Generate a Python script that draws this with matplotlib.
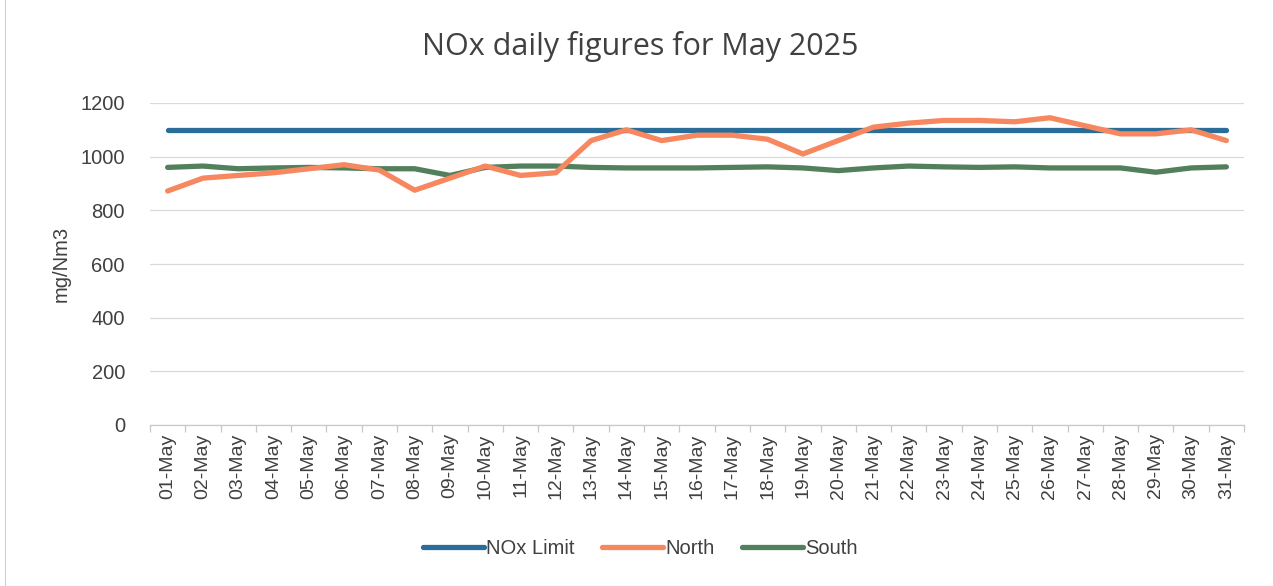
import matplotlib
matplotlib.use('Agg')
import matplotlib.pyplot as plt
from matplotlib.ticker import FixedLocator, NullFormatter

# =============================================================================
# Data
# =============================================================================

days = [f"{d:02d}-May" for d in range(1, 32)]

nox_limit = [1100] * 31

north = [872, 920, 930, 940, 955, 970, 950, 875, 920, 965,
         930, 940, 1060, 1100, 1060, 1080, 1080, 1065, 1010, 1060,
         1110, 1125, 1135, 1135, 1130, 1145, 1115, 1085, 1085, 1100,
         1060]

south = [960, 965, 955, 958, 960, 958, 955, 955, 930, 960,
         965, 965, 960, 958, 958, 958, 960, 962, 958, 948,
         958, 965, 962, 960, 962, 958, 958, 958, 942, 958,
         962]

y_ticks = [0, 200, 400, 600, 800, 1000, 1200]

# Visual settings
COLOR_LIMIT = '#2b6d99'
COLOR_NORTH = '#f6875f'
COLOR_SOUTH = '#53805c'
GRID_COLOR = '#dadada'
TEXT_COLOR = '#404040'
LINE_W = 3.8
FONT = ['Liberation Sans', 'DejaVu Sans']

plt.rcParams['font.family'] = FONT

fig = plt.figure(figsize=(12.73, 5.86), dpi=100)
ax = fig.add_axes([150 / 1273, 1 - 425 / 586, 1094 / 1273, 322 / 586])

x = list(range(len(days)))
ax.plot(x, nox_limit, color=COLOR_LIMIT, lw=LINE_W, solid_capstyle='round',
        label='NOx Limit', zorder=3)
ax.plot(x, north, color=COLOR_NORTH, lw=LINE_W, solid_capstyle='round',
        solid_joinstyle='round', label='North', zorder=4)
ax.plot(x, south, color=COLOR_SOUTH, lw=LINE_W, solid_capstyle='round',
        solid_joinstyle='round', label='South', zorder=2)

ax.set_xlim(-0.5, len(days) - 0.5)
ax.set_ylim(0, 1200)

# ── Axes styling ──
ax.set_yticks(y_ticks)
ax.set_yticklabels([str(v) for v in y_ticks], fontsize=14.5, color=TEXT_COLOR)
ax.tick_params(axis='y', length=0, pad=18)
ax.yaxis.grid(True, color=GRID_COLOR, lw=0.9)
ax.set_axisbelow(True)

ax.set_xticks(x)
ax.set_xticklabels(days, rotation=90, fontsize=14, color=TEXT_COLOR)
ax.tick_params(axis='x', which='major', length=0, pad=6)
ax.xaxis.set_minor_locator(FixedLocator([i - 0.5 for i in range(len(days) + 1)]))
ax.xaxis.set_minor_formatter(NullFormatter())
ax.tick_params(axis='x', which='minor', length=5, color='#c8c8c8', width=0.9)

for side in ('top', 'right', 'left'):
    ax.spines[side].set_visible(False)
ax.spines['bottom'].set_color('#c8c8c8')
ax.spines['bottom'].set_linewidth(0.9)

ax.set_ylabel('mg/Nm3', fontsize=14.5, color=TEXT_COLOR, labelpad=7)

fig.text(0.503, 1 - 47 / 586, 'NOx daily figures for May 2025', ha='center',
         va='center', fontsize=22, color=TEXT_COLOR,
         family=['Open Sans', 'DejaVu Sans'])

fig.legend(loc='center', bbox_to_anchor=(0.503, 1 - 549 / 586), ncol=3,
           frameon=False, fontsize=14.5, handlelength=3.0, handletextpad=0.1,
           columnspacing=1.4, labelcolor=TEXT_COLOR)

# Chart frame (faint border like the pasted chart)
fig.add_artist(plt.Line2D([5 / 1273, 5 / 1273], [0, 1], color='#d0d0d0',
                          lw=0.8, transform=fig.transFigure))

fig.savefig('out.png', dpi=100, facecolor='white')
